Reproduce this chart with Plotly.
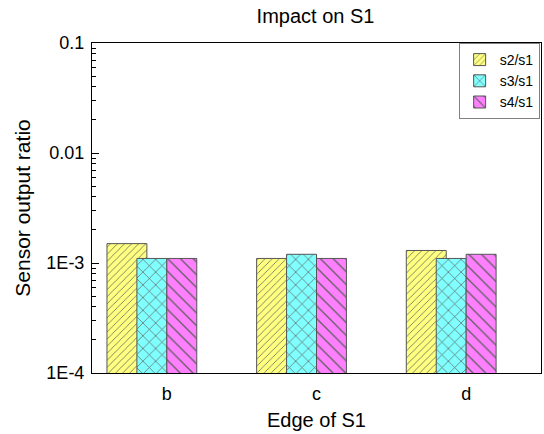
import plotly.graph_objects as go

categories = ["b", "c", "d"]
s2_s1 = [1.5e-3, 1.1e-3, 1.3e-3]
s3_s1 = [1.1e-3, 1.2e-3, 1.1e-3]
s4_s1 = [1.1e-3, 1.1e-3, 1.2e-3]
series_names = ["s2/s1", "s3/s1", "s4/s1"]
ytick_vals = [1e-4, 1e-3, 1e-2, 1e-1]
ytick_text = ["1E-4", "1E-3", "0.01", "0.1"]

FONT = "Liberation Sans, Arial, sans-serif"

styles = [
    dict(color="#FFFF80", shape="/", size=5, offset=-0.4, width=0.2667),
    dict(color="#80FFFF", shape="x", size=9, offset=-0.2, width=0.2),
    dict(color="#FF80FF", shape="\\", size=9, offset=0.0, width=0.2),
]

fig = go.Figure()
for name, vals, st in zip(series_names, [s2_s1, s3_s1, s4_s1], styles):
    fig.add_trace(go.Bar(
        x=categories, y=vals, name=name,
        offset=st["offset"], width=st["width"],
        marker=dict(
            color=st["color"],
            line=dict(color="#555555", width=1),
            pattern=dict(shape=st["shape"], size=st["size"], solidity=0.15,
                         fgcolor="#606060", bgcolor=st["color"], fillmode="replace"),
        ),
    ))

minor_vals = [m * 10.0 ** e for e in range(-4, -1) for m in range(2, 10)]

fig.update_layout(
    width=544, height=434,
    margin=dict(l=92, r=3, t=43, b=61, autoexpand=False),
    paper_bgcolor="white", plot_bgcolor="white",
    barmode="overlay",
    font=dict(family=FONT, color="black", size=18),
    title=dict(text="Impact on S1", x=0.58, xanchor="center", y=0.962, yanchor="middle",
               font=dict(size=20, family=FONT)),
    showlegend=True,
    legend=dict(x=0.997, y=1.0, xanchor="right", yanchor="top",
                bordercolor="#808080", borderwidth=1, bgcolor="white",
                font=dict(size=14, family=FONT), tracegroupgap=0),
    xaxis=dict(
        range=[-0.5, 2.5], showline=True, linecolor="black", linewidth=1, mirror=True,
        ticks="", showgrid=False, zeroline=False, automargin=False,
        ticklabelstandoff=4,
        title=dict(text="Edge of S1", font=dict(size=20, family=FONT), standoff=10),
        tickfont=dict(size=18),
    ),
    yaxis=dict(
        type="log", range=[-4, -1], showline=True, linecolor="black", linewidth=1, mirror=True,
        tickvals=ytick_vals, ticktext=ytick_text, automargin=False,
        ticks="inside", ticklen=7, tickcolor="black", ticklabelstandoff=3,
        minor=dict(tickvals=minor_vals, ticks="inside", ticklen=4, tickcolor="black", showgrid=False),
        showgrid=False, zeroline=False,
        title=dict(text="Sensor output ratio", font=dict(size=21, family=FONT), standoff=10),
        tickfont=dict(size=18),
    ),
)

fig.write_html("out.html", config={"displayModeBar": False},
               post_script="document.body.style.margin='0';document.body.style.padding='0';")
